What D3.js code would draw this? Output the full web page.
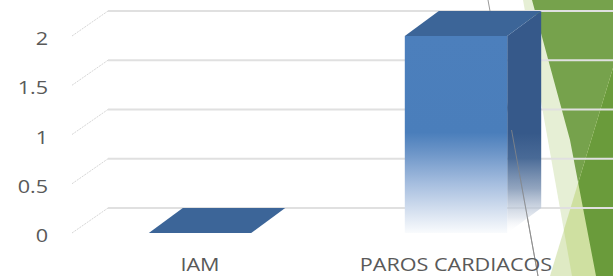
<!DOCTYPE html>
<html>
<head>
<meta charset="utf-8">
<script src="https://cdn.jsdelivr.net/npm/d3@7"></script>
<style>
  html, body { margin: 0; padding: 0; background: #ffffff; overflow: hidden; }
  svg { display: block; }
  text { font-family: "Open Sans", "Lato", sans-serif; fill: #595959; }
</style>
</head>
<body>
<svg id="chart" width="613" height="276"></svg>
<script>
// ---- data ----
const categories = ["IAM", "PAROS CARDIACOS"];
const values = [0, 2];
const yTicks = [0, 0.5, 1, 1.5, 2];
const tickLabels = ["0", "0.5", "1", "1.5", "2"];

// ---- layout ----
const W = 613, H = 276;
const plotLeft = 72, plotRight = 584;
const axisDX = 36, axisDY = -25;   // depth offset of back wall
const barDX = 34, barDY = -25;     // depth offset of bars
const textStretch = 1.2;           // wide office-style lettering
const svg = d3.select("#chart");
const defs = svg.append("defs");

const x = d3.scaleBand().domain(categories).range([plotLeft, plotRight]).padding(0);
const y = d3.scaleLinear().domain([0, 2]).range([233, 36]);
const barW = x.bandwidth() * 0.4;

function stretch(sel) {
  sel.each(function () {
    const len = this.getComputedTextLength();
    d3.select(this).attr("textLength", len * textStretch).attr("lengthAdjust", "spacingAndGlyphs");
  });
}

// ---- slide decoration (green facets) ----
const deco = svg.append("g");
const palePts = [[523,0],[613,0],[613,276],[572,276]];
const darkPts = [[532,0],[613,0],[613,276],[596,276],[570,140]];
const risePts = [[613,68],[613,276],[550,276]];
const line = d3.line();
defs.append("clipPath").attr("id","clipPale").append("path").attr("d", line(palePts) + "Z");
defs.append("clipPath").attr("id","clipDark").append("path").attr("d", line(darkPts) + "Z");
deco.append("path").attr("d", line(palePts) + "Z").attr("fill", "#e6efd5");
deco.append("path").attr("d", line(darkPts) + "Z").attr("fill", "#76a24c");
deco.append("path").attr("d", line(risePts) + "Z").attr("fill", "#dfeac4");
deco.append("path").attr("d", line(risePts) + "Z").attr("fill", "#cfe0a1").attr("clip-path","url(#clipPale)");
deco.append("path").attr("d", line(risePts) + "Z").attr("fill", "#6a9b3b").attr("clip-path","url(#clipDark)");

// ---- gridlines on back wall ----
const grid = svg.append("g");
grid.selectAll("line.g").data(yTicks).join("line")
  .attr("x1", plotLeft + axisDX).attr("x2", W)
  .attr("y1", d => y(d) + axisDY).attr("y2", d => y(d) + axisDY)
  .attr("stroke", "#e0e0e0").attr("stroke-width", 1.8);
// diagonal tick lines on side wall
grid.selectAll("line.d").data(yTicks).join("line")
  .attr("x1", plotLeft).attr("y1", d => y(d))
  .attr("x2", plotLeft + axisDX).attr("y2", d => y(d) + axisDY)
  .attr("stroke", "#d6d6d6").attr("stroke-width", 1).attr("stroke-dasharray", "2,1");

// ---- thin decorative slide line (behind bars) ----
const decoLine = [[488,0],[538,276]];
svg.append("path").attr("d", line(decoLine)).attr("stroke", "#9a9a9a").attr("stroke-width", 1).attr("fill","none");

// ---- gradients ----
const gFront = defs.append("linearGradient").attr("id","gFront").attr("x1",0).attr("y1",0).attr("x2",0).attr("y2",1);
[[0,"#4c7fbc",1],[0.49,"#4a7ebb",1],[0.6,"#6f97c9",1],[0.75,"#a6bedf",1],[0.9,"#d9e3f1",1],[1,"#f9fbfd",1]]
  .forEach(s => gFront.append("stop").attr("offset", s[0]).attr("stop-color", s[1]).attr("stop-opacity", s[2]));
const gSide = defs.append("linearGradient").attr("id","gSide").attr("x1",0).attr("y1",0).attr("x2",0).attr("y2",1);
[[0,"#36598a",1],[0.55,"#36598a",1],[0.66,"#3f6291",0.95],[0.8,"#7f95b4",0.85],[0.93,"#d5dce7",0.6],[1,"#ffffff",0]]
  .forEach(s => gSide.append("stop").attr("offset", s[0]).attr("stop-color", s[1]).attr("stop-opacity", s[2]));

// ---- 3D bars ----
const bars = svg.append("g");
categories.forEach((c, i) => {
  const v = values[i];
  const x0 = x(c) + (x.bandwidth() - barW) / 2, x1 = x0 + barW;
  const yb = y(0), yt = y(v);
  const g = bars.append("g");
  if (yb - yt > 0.5) {
    g.append("path").attr("d", line([[x1,yt],[x1+barDX,yt+barDY],[x1+barDX,yb+barDY],[x1,yb]]) + "Z")
      .attr("fill", "url(#gSide)");
    g.append("rect").attr("x", x0).attr("y", yt).attr("width", barW).attr("height", yb - yt)
      .attr("fill", "url(#gFront)");
  }
  g.append("path").attr("d", line([[x0,yt],[x1,yt],[x1+barDX,yt+barDY],[x0+barDX,yt+barDY]]) + "Z")
    .attr("fill", "#3c6598");
});

// decorative line visible over faded bar bottom
defs.append("clipPath").attr("id","clipLow").append("rect").attr("x",0).attr("y",130).attr("width",W).attr("height",H);
svg.append("path").attr("d", line(decoLine)).attr("stroke", "#8a8a8a").attr("stroke-width", 1)
  .attr("fill","none").attr("clip-path","url(#clipLow)").attr("opacity", 0.8);

// ---- tick labels ----
svg.append("g").selectAll("text").data(yTicks).join("text")
  .attr("x", 48).attr("y", d => y(d) + 2)
  .attr("text-anchor", "end").attr("dominant-baseline", "central")
  .attr("font-size", 18)
  .text((d, i) => tickLabels[i])
  .call(stretch);

// ---- category labels ----
svg.append("g").selectAll("text").data(categories).join("text")
  .attr("x", d => x(d) + x.bandwidth() / 2).attr("y", 271)
  .attr("text-anchor", "middle").attr("font-size", 18)
  .text(d => d)
  .call(stretch);
</script>
</body>
</html>
